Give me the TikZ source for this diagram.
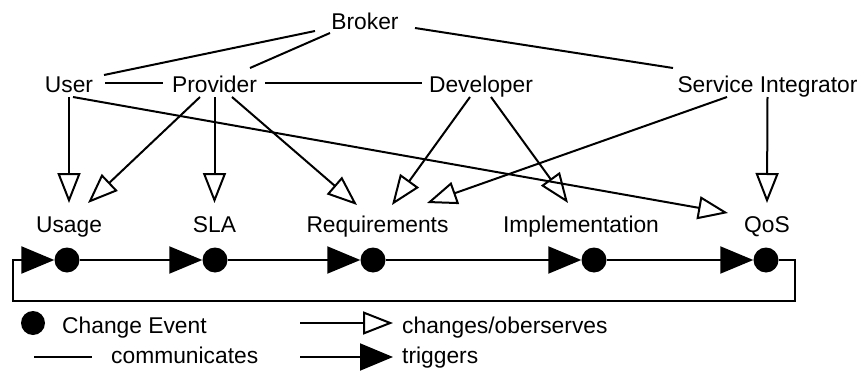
\documentclass[tikz,border=0pt]{standalone}
\usepackage{fontspec}
\setmainfont{Liberation Sans}
\usetikzlibrary{arrows.meta,calc}
\begin{document}
\begin{tikzpicture}[x=1pt,y=-1pt,
  txt/.style={font=\fontsize{22.8}{27}\selectfont, inner sep=0pt, text height=16pt, text depth=0pt},
  comm/.style={line width=2pt},
  chg/.style={line width=2pt, -{Triangle[open, length=30pt, width=23pt, line width=2pt]}},
  trig/.style={line width=2pt, -{Triangle[length=33pt, width=27pt]}},
  evt/.style={circle, fill=black, inner sep=0pt, minimum size=25pt},
  legevt/.style={circle, fill=black, inner sep=0pt, minimum size=24pt}]
\path[use as bounding box] (0,0) rectangle (860,372);
% actors
\node[txt] (broker) at (365,21) {Broker};
\node[txt] (user) at (69,84) {User};
\node[txt] (provider) at (214.5,84) {Provider};
\node[txt] (dev) at (481,84) {Developer};
\node[txt] (si) at (767.5,84) {Service Integrator};
% artifacts
\node[txt] (usage) at (69,224) {Usage};
\node[txt] (sla) at (214.5,224) {SLA};
\node[txt] (req) at (377.5,224) {Requirements};
\node[txt] (impl) at (581,224) {Implementation};
\node[txt] (qos) at (767,224) {QoS};
% communicates
\draw[comm] ($(broker)+(-50,10)$) -- ($(user)+(35,-9)$);
\draw[comm] ($(broker)+(-35,12)$) -- ($(provider)+(35.5,-16)$);
\draw[comm] ($(broker)+(50,7)$) -- ($(si)+(-94.5,-16)$);
\draw[comm] ($(user)+(36,-1)$) -- ($(provider)+(-51.5,-1)$);
\draw[comm] ($(provider)+(50.5,-1)$) -- ($(dev)+(-59,-1)$);
% changes / observes
\draw[chg] ($(user)+(0,13)$) -- ($(usage)+(0,-21)$);
\draw[chg] ($(provider)+(-14.5,13)$) -- ($(usage)+(19,-21)$);
\draw[chg] ($(provider)+(0,13)$) -- ($(sla)+(0,-21)$);
\draw[chg] ($(provider)+(17.5,13)$) -- ($(req)+(-20.5,-19)$);
\draw[chg] ($(user)+(4,13)$) -- ($(qos)+(-39,-11)$);
\draw[chg] ($(dev)+(-11,13)$) -- ($(req)+(14.5,-19)$);
\draw[chg] ($(dev)+(10,13)$) -- ($(impl)+(-13,-21)$);
\draw[chg] ($(si)+(-40.5,13)$) -- ($(req)+(49.5,-21)$);
\draw[chg] ($(si)+(0,13)$) -- ($(qos)+(0,-21)$);
% change events
\node[evt] (e1) at (67,260) {};
\node[evt] (e2) at (215,260) {};
\node[evt] (e3) at (373,260) {};
\node[evt] (e4) at (594,260) {};
\node[evt] (e5) at (766,260) {};
\draw[trig] (e1) -- (e2);
\draw[trig] (e2) -- (e3);
\draw[trig] (e3) -- (e4);
\draw[trig] (e4) -- (e5);
\coordinate (lr) at (795,301);
\coordinate (ll) at (13,301);
\draw[trig, line width=2.3pt] (e5.east) -| (lr) -- (ll) |- (e1.west);
% legend
\node[legevt] (lgdot) at (33,323) {};
\node[txt, anchor=west] (lgce) at (62,325) {Change Event};
\coordinate (lgc1) at (34,357);
\coordinate (lgc2) at (92,357);
\draw[comm] (lgc1) -- (lgc2);
\node[txt, anchor=west] (lgcomm) at (111,355) {communicates};
\coordinate (lga1) at (300,323);
\node[txt, anchor=west] (lgchg) at (402,325) {changes/oberserves};
\draw[chg] (lga1) -- ($(lgchg.west)+(-9,-2)$);
\coordinate (lgb1) at (300,357);
\node[txt, anchor=west] (lgtrig) at (402,355) {triggers};
\draw[trig] (lgb1) -- ($(lgtrig.west)+(-9,2)$);
\end{tikzpicture}
\end{document}
